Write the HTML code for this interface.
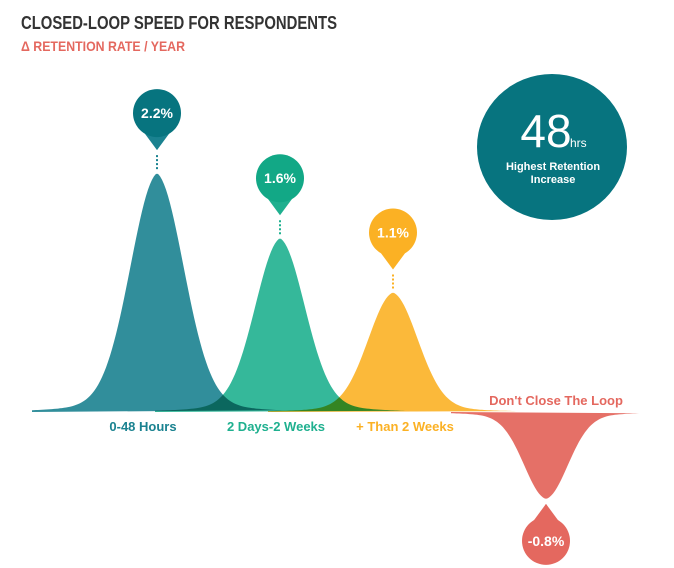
<!DOCTYPE html>
<html><head><meta charset="utf-8"><style>
body{margin:0;background:#fff;width:674px;height:568px;overflow:hidden;font-family:"Liberation Sans",sans-serif}
svg{display:block}
</style></head><body>
<svg id="chart" width="674" height="568">
<text x="21" y="29" font-family="Liberation Sans, sans-serif" font-weight="bold" font-size="18" fill="#333" textLength="316" lengthAdjust="spacingAndGlyphs">CLOSED-LOOP SPEED FOR RESPONDENTS</text>
<text x="21" y="51" font-family="Liberation Sans, sans-serif" font-weight="bold" font-size="14" fill="#e4685f" textLength="164" lengthAdjust="spacingAndGlyphs">Δ RETENTION RATE / YEAR</text>
<g>
<ellipse cx="552" cy="147" rx="75" ry="73" fill="#07747f"/>
<text x="546" y="147" text-anchor="middle" font-size="46" fill="#fff">48</text>
<text x="570" y="147" font-size="12" fill="#fff">hrs</text>
<text x="553" y="170" text-anchor="middle" font-size="11" font-weight="bold" fill="#fff">Highest Retention</text>
<text x="553" y="183" text-anchor="middle" font-size="11" font-weight="bold" fill="#fff">Increase</text>
</g>
<g id="marks"></g>
</svg>
<script>
const categories=["0-48 Hours","2 Days-2 Weeks","+ Than 2 Weeks","Don't Close The Loop"];
const values=[2.2,1.6,1.1,-0.8];
const valueLabels=["2.2%","1.6%","1.1%","-0.8%"];
const colors=["#1a8290","#1fb08f","#fbb124","#e4685f"];
const centers=[157,280,393,546];
const spreads=[27,25,25,22];
const baseY=412, unit=108.6;
function yScale(v){return baseY - v*unit;}
const ns="http://www.w3.org/2000/svg";
const g=document.getElementById('marks');
function mk(t,a){const e=document.createElementNS(ns,t);for(const k in a)e.setAttribute(k,a[k]);return e;}
values.forEach((v,i)=>{
  const c=centers[i], s=spreads[i], h=yScale(v)-baseY;
  const half=i==3?95:125;
  let d="M"+(c-half)+","+baseY;
  for(let x=c-half;x<=c+half;x+=2){
    const dx=(x-c)/s;
    const f=0.88*Math.exp(-dx*dx/2)+0.12*Math.exp(-Math.abs(x-c)/45);
    d+=" L"+x+","+(baseY+h*f).toFixed(1);
  }
  d+=" Z";
  const p=mk('path',{d:d,fill:colors[i],opacity:i==3?0.95:0.9,style:"mix-blend-mode:multiply"});
  
  
  g.appendChild(p);
});
values.forEach((v,i)=>{
  const c=centers[i], py=yScale(v), up=v>=0;
  const cy=up?py-60:py+42;
  const line=mk('line',{x1:c,x2:c,y1:up?py-18:py+6,y2:up?py-4:py+16,stroke:colors[i],"stroke-width":2,"stroke-dasharray":"2,2"});
  
  
  g.appendChild(line);
  const tip=up?cy+37:cy-37;
  const pin=mk('path',{d:`M${c-14},${cy+(up?18:-18)} L${c},${tip} L${c+14},${cy+(up?18:-18)} Z`,fill:colors[i]});
  
  
  g.appendChild(pin);
  const circ=mk('circle',{cx:c,cy:cy,r:24,fill:i==0?"#07747f":(i==1?"#12a886":colors[i])});
  
  
  g.appendChild(circ);
  const t=mk('text',{x:c,y:cy+5,"text-anchor":"middle","font-size":14,"font-weight":"bold",fill:"#fff"});
  t.textContent=valueLabels[i];
  
  
  g.appendChild(t);
  const lx=[143,276,405,556][i], ly=i==3?405:431;
  const cl=mk('text',{x:lx,y:ly,"text-anchor":"middle","font-size":13,"font-weight":"bold",fill:colors[i]});
  cl.textContent=categories[i];
  
  
  g.appendChild(cl);
});
</script>
</body></html>
